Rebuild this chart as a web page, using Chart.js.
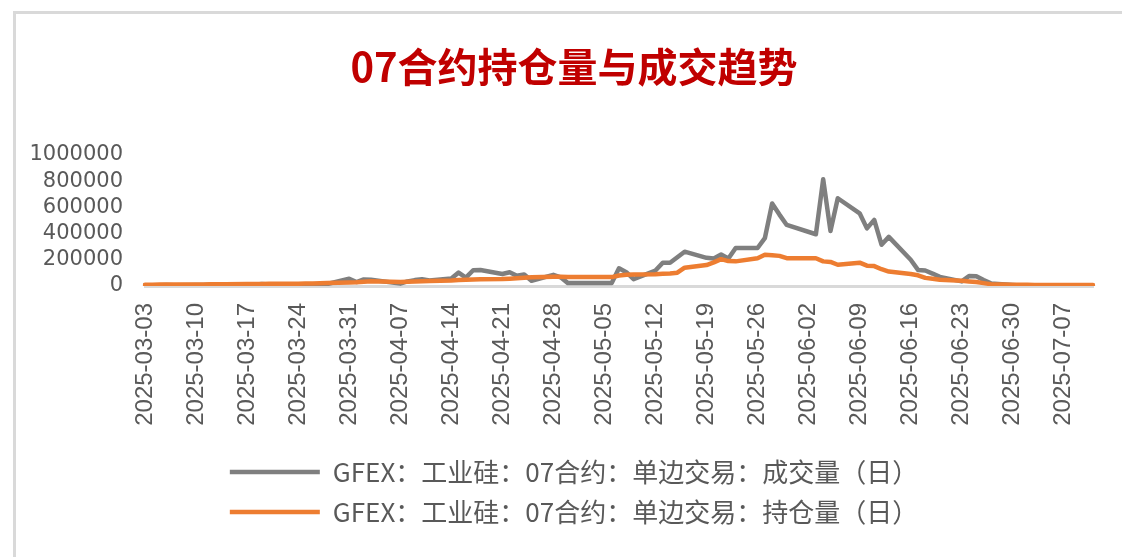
<!DOCTYPE html>
<html>
<head>
<meta charset="utf-8">
<script src="https://cdn.jsdelivr.net/npm/chart.js@4.4.1/dist/chart.umd.min.js"></script>
<style>
  html, body { margin: 0; padding: 0; background: #ffffff; width: 1122px; height: 557px; overflow: hidden; }
  .frame { position: absolute; left: 13px; top: 11px; width: 1200px; height: 600px;
           border-left: 3px solid #d9d9d9; border-top: 3px solid #d9d9d9; }
  #wrap { position: absolute; left: 16px; top: 14px; width: 1106px; height: 543px; }
</style>
</head>
<body>
<div class="frame"></div>
<div id="wrap"><canvas id="c" width="1106" height="543"></canvas></div>
<script>
// Trading days (2025) and daily values
const tradingDates = [
  '2025-03-03','2025-03-04','2025-03-05','2025-03-06','2025-03-07',
  '2025-03-10','2025-03-11','2025-03-12','2025-03-13','2025-03-14',
  '2025-03-17','2025-03-18','2025-03-19','2025-03-20','2025-03-21',
  '2025-03-24','2025-03-25','2025-03-26','2025-03-27','2025-03-28',
  '2025-03-31','2025-04-01','2025-04-02','2025-04-03',
  '2025-04-07','2025-04-08','2025-04-09','2025-04-10','2025-04-11',
  '2025-04-14','2025-04-15','2025-04-16','2025-04-17','2025-04-18',
  '2025-04-21','2025-04-22','2025-04-23','2025-04-24','2025-04-25',
  '2025-04-28','2025-04-29','2025-04-30',
  '2025-05-06','2025-05-07','2025-05-08','2025-05-09',
  '2025-05-12','2025-05-13','2025-05-14','2025-05-15','2025-05-16',
  '2025-05-19','2025-05-20','2025-05-21','2025-05-22','2025-05-23',
  '2025-05-26','2025-05-27','2025-05-28','2025-05-29','2025-05-30',
  '2025-06-03','2025-06-04','2025-06-05','2025-06-06',
  '2025-06-09','2025-06-10','2025-06-11','2025-06-12','2025-06-13',
  '2025-06-16','2025-06-17','2025-06-18','2025-06-19','2025-06-20',
  '2025-06-23','2025-06-24','2025-06-25','2025-06-26','2025-06-27',
  '2025-06-30','2025-07-01','2025-07-02','2025-07-03','2025-07-04',
  '2025-07-07','2025-07-08','2025-07-09','2025-07-10','2025-07-11'
];
const volume = [
  5000, 6000, 5000, 7000, 6000,
  8000, 7000, 9000, 8000, 10000,
  12000, 10000, 15000, 12000, 14000,
  8000, 10000, 6000, 12000, 15000,
  55000, 30000, 50000, 48000,
  18000, 35000, 45000, 52000, 42000,
  58000, 102000, 64000, 120000, 122000,
  92000, 105000, 78000, 88000, 40000,
  85000, 66000, 22000,
  22000, 135000, 105000, 52000,
  118000, 178000, 178000, 220000, 262000,
  215000, 210000, 240000, 210000, 290000,
  290000, 365000, 630000, 545000, 466000,
  395000, 815000, 420000, 670000,
  555000, 440000, 505000, 315000, 375000,
  200000, 123000, 118000, 95000, 70000,
  35000, 76000, 74000, 45000, 20000,
  8000, 4000, 3000, 2000, 2000,
  1500, 1500, 1000, 1000, 1000
];
const openInterest = [
  10000, 10000, 10500, 11000, 11000,
  11500, 12000, 12500, 13000, 13500,
  14500, 15000, 16000, 16500, 17000,
  18000, 19000, 20000, 21000, 23000,
  26000, 28000, 32000, 36000,
  30000, 32000, 34000, 36000, 38000,
  42000, 45000, 47000, 50000, 51000,
  53000, 56000, 59000, 63000, 66000,
  71000, 70000, 68000,
  68000, 80000, 86000, 88000,
  90000, 93000, 96000, 102000, 140000,
  160000, 180000, 205000, 190000, 188000,
  212000, 238000, 235000, 230000, 212000,
  212000, 188000, 184000, 162000,
  178000, 155000, 152000, 128000, 110000,
  92000, 82000, 62000, 55000, 47000,
  40000, 35000, 30000, 22000, 14000,
  10000, 9000, 9000, 8500, 8000,
  8000, 7500, 7500, 7000, 7000
];
const yTicks = [0, 200000, 400000, 600000, 800000, 1000000];
const seriesNames = ['GFEX：工业硅：07合约：单边交易：成交量（日）', 'GFEX：工业硅：07合约：单边交易：持仓量（日）'];
const titleText = '07合约持仓量与成交趋势';

// Build a calendar-day category axis (date axis), weekends/holidays left as gaps
function pad(n) { return (n < 10 ? '0' : '') + n; }
const start = new Date(tradingDates[0] + 'T00:00:00Z');
const end = new Date(tradingDates[tradingDates.length - 1] + 'T00:00:00Z');
const calendar = [];
for (let t = start.getTime(); t <= end.getTime(); t += 86400000) {
  const d = new Date(t);
  calendar.push(d.getUTCFullYear() + '-' + pad(d.getUTCMonth() + 1) + '-' + pad(d.getUTCDate()));
}
function toCalendar(values) {
  const m = {};
  tradingDates.forEach((d, i) => { m[d] = values[i]; });
  return calendar.map(d => (d in m ? m[d] : null));
}

new Chart(document.getElementById('c'), {
  type: 'line',
  data: {
    labels: calendar,
    datasets: [
      { label: seriesNames[0], data: toCalendar(volume), borderColor: '#7f7f7f', backgroundColor: '#7f7f7f',
        borderWidth: 4.5, pointRadius: 0, tension: 0, spanGaps: true, order: 1,
        borderJoinStyle: 'round', borderCapStyle: 'round', pointStyle: 'line' },
      { label: seriesNames[1], data: toCalendar(openInterest), borderColor: '#ed7d31', backgroundColor: '#ed7d31',
        borderWidth: 4.5, pointRadius: 0, tension: 0, spanGaps: true, order: 0,
        borderJoinStyle: 'round', borderCapStyle: 'round', pointStyle: 'line' }
    ]
  },
  options: {
    responsive: false,
    animation: false,
    layout: { padding: { left: 14, right: 4, top: 0, bottom: 22 } },
    plugins: {
      title: {
        display: true, text: titleText, color: '#c00000',
        font: { family: '"Noto Sans CJK SC"', size: 40, weight: 'bold', lineHeight: 1.2 },
        padding: { top: 29, bottom: 64 }
      },
      legend: {
        position: 'bottom',
        labels: {
          usePointStyle: true, pointStyleWidth: 90, boxHeight: 26,
          color: '#595959', padding: 14,
          font: { family: '"Noto Sans CJK SC"', size: 26 },
          sort: (a, b) => a.datasetIndex - b.datasetIndex
        }
      },
      tooltip: { enabled: false }
    },
    scales: {
      x: {
        type: 'category',
        grid: { display: false, drawTicks: false },
        border: { display: true, color: '#d9d9d9', width: 3 },
        afterBuildTicks: s => { s.ticks = s.ticks.filter(t => t.value % 7 === 0); },
        afterFit: s => { s.height = 159; },
        ticks: {
          autoSkip: false, minRotation: 90, maxRotation: 90, padding: 17,
          color: '#595959', font: { family: '"Liberation Sans"', size: 24 }
        }
      },
      y: {
        min: 0, max: 1000000,
        afterBuildTicks: s => { s.ticks = yTicks.map(v => ({ value: v })); },
        afterFit: s => { s.width = 115; },
        grid: { display: false, drawTicks: false },
        border: { display: false },
        ticks: {
          autoSkip: false, padding: 22, color: '#595959',
          font: { family: 'DejaVu Sans', size: 21 },
          callback: v => String(v)
        }
      },
      y2: {
        position: 'right', display: true,
        grid: { display: false, drawTicks: false },
        border: { display: false },
        ticks: { display: false },
        afterFit: s => { s.width = 25; }
      }
    }
  }
});
</script>
</body>
</html>
